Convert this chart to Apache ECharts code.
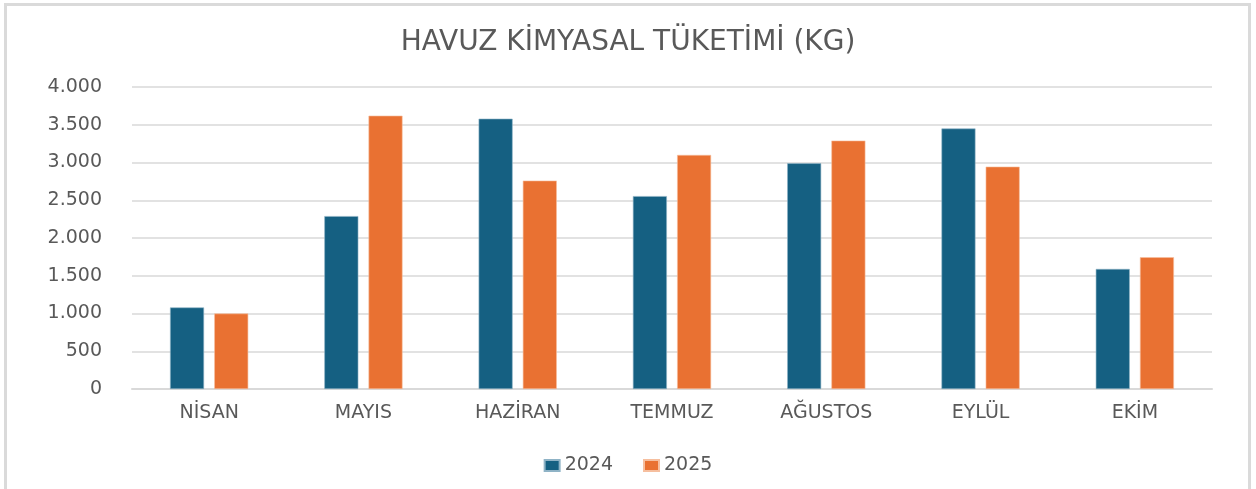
<!DOCTYPE html>
<html>
<head>
    <meta charset="UTF-8"/>
    <script type="text/javascript" src="https://cdn.jsdelivr.net/npm/echarts@6/dist/echarts.min.js"></script>
    <title>Havuz Kimyasal Tüketimi</title>
    <style>
        html, body { margin: 0; padding: 0; background: #fff; }
        #barChart { width: 1256px; height: 489px; }
    </style>
</head>
<body>
<div id="barChart"></div>

<script type="application/javascript">
    // aylar ve yillik tuketim (kg)
    var months = ['NİSAN', 'MAYIS', 'HAZİRAN', 'TEMMUZ', 'AĞUSTOS', 'EYLÜL', 'EKİM'];
    var seriesNames = ['2024', '2025'];
    var values2024 = [1080, 2290, 3580, 2555, 2990, 3450, 1590];
    var values2025 = [1000, 3620, 2760, 3100, 3290, 2945, 1745];

    var textColor = '#595959';
    var fontName = 'DejaVu Sans';

    function formatKg(v) {
        // turkce binlik ayirici: 4.000
        return String(v).replace(/\B(?=(\d{3})+(?!\d))/g, '.');
    }

    function initBarOne() {
        var myChart = echarts.init(document.getElementById('barChart'));
        var option = {
            backgroundColor: '#ffffff',
            animation: false,
            title: {
                text: 'HAVUZ KİMYASAL TÜKETİMİ (KG)',
                left: 'center',
                top: 24,
                textStyle: {
                    color: textColor,
                    fontFamily: fontName,
                    fontSize: 28,
                    fontWeight: 'normal'
                }
            },
            graphic: [
                {
                    type: 'rect',
                    shape: { x: 5.5, y: 4.5, width: 1244, height: 520 },
                    style: { fill: 'none', stroke: '#dadada', lineWidth: 3 },
                    silent: true
                }
            ],
            legend: {
                data: seriesNames,
                left: 'center',
                top: 451,
                itemWidth: 15,
                itemHeight: 11,
                itemGap: 30,
                icon: 'rect',
                textStyle: {
                    color: textColor,
                    fontFamily: fontName,
                    fontSize: 19
                }
            },
            grid: {
                left: 132,
                right: 44,
                top: 87,
                bottom: 100,
                containLabel: false
            },
            xAxis: {
                type: 'category',
                data: months,
                axisTick: { show: false },
                axisLine: { lineStyle: { color: '#d9d9d9', width: 2 } },
                axisLabel: {
                    color: textColor,
                    fontFamily: fontName,
                    fontSize: 19,
                    margin: 15
                }
            },
            yAxis: {
                type: 'value',
                min: 0,
                max: 4000,
                interval: 500,
                axisLine: { show: false },
                axisTick: { show: false },
                splitLine: { lineStyle: { color: '#d9d9d9', width: 1.5 } },
                axisLabel: {
                    color: textColor,
                    fontFamily: fontName,
                    fontSize: 19,
                    margin: 30,
                    formatter: formatKg
                }
            },
            series: [
                {
                    name: seriesNames[0],
                    type: 'bar',
                    data: values2024,
                    barWidth: 34,
                    barGap: '30%',
                    itemStyle: { color: '#156082', borderColor: '#8fb3c6', borderWidth: 0.6 }
                },
                {
                    name: seriesNames[1],
                    type: 'bar',
                    data: values2025,
                    barWidth: 34,
                    itemStyle: { color: '#e97132', borderColor: '#f6bf9f', borderWidth: 0.6 }
                }
            ]
        };
        myChart.setOption(option);
    }

    initBarOne();
</script>
</body>
</html>
